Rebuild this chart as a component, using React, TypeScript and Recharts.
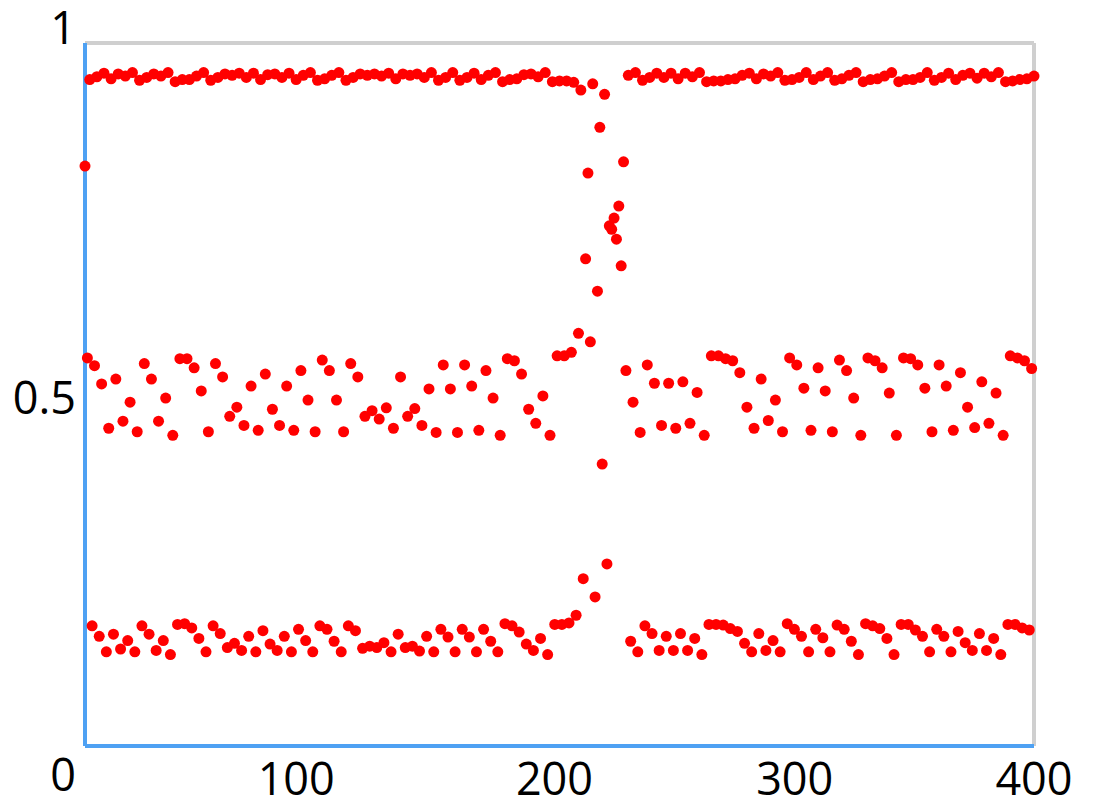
import { ScatterChart, Scatter, XAxis, YAxis, ReferenceLine } from "recharts";

// iteration index runs 0..400
const xTicks = [100, 200, 300, 400];
const yTicks = [0, 0.5, 1];

const startValue = 0.825;

// before the burst: middle band at n = 1, 4, ... 211
const midBefore = [
  0.552, 0.541, 0.515, 0.452, 0.522, 0.462, 0.489, 0.447, 0.544, 0.522,
  0.462, 0.495, 0.442, 0.551, 0.551, 0.538, 0.505, 0.447, 0.544, 0.525,
  0.469, 0.482, 0.456, 0.512, 0.449, 0.529, 0.479, 0.456, 0.512, 0.449,
  0.534, 0.492, 0.447, 0.549, 0.534, 0.492, 0.447, 0.544, 0.525, 0.469,
  0.477, 0.465, 0.481, 0.452, 0.525, 0.469, 0.48, 0.456, 0.508, 0.446,
  0.542, 0.508, 0.446, 0.542, 0.512, 0.449, 0.534, 0.495, 0.442, 0.551,
  0.548, 0.529, 0.479, 0.459, 0.498, 0.442, 0.555, 0.555, 0.56, 0.587,
  0.693,
];

// top band at n = 2, 5, ... 212
const topBefore = [
  0.948, 0.952, 0.957, 0.949, 0.956, 0.953, 0.958, 0.947, 0.951, 0.956,
  0.953, 0.958, 0.945, 0.948, 0.948, 0.953, 0.958, 0.947, 0.951, 0.956,
  0.954, 0.957, 0.951, 0.957, 0.948, 0.955, 0.956, 0.951, 0.957, 0.948,
  0.954, 0.958, 0.947, 0.949, 0.954, 0.958, 0.947, 0.951, 0.956, 0.954,
  0.956, 0.953, 0.957, 0.949, 0.956, 0.954, 0.956, 0.951, 0.958, 0.947,
  0.951, 0.958, 0.947, 0.951, 0.957, 0.948, 0.954, 0.958, 0.945, 0.948,
  0.949, 0.955, 0.956, 0.952, 0.958, 0.945, 0.946, 0.946, 0.944, 0.933,
  0.815,
];

// bottom band at n = 3, 6, ... 210
const lowBefore = [
  0.171, 0.156, 0.134, 0.159, 0.138, 0.15, 0.134, 0.171, 0.159, 0.136,
  0.15, 0.13, 0.173, 0.174, 0.168, 0.153, 0.134, 0.171, 0.16, 0.14,
  0.146, 0.136, 0.156, 0.134, 0.164, 0.145, 0.136, 0.156, 0.134, 0.166,
  0.15, 0.134, 0.171, 0.166, 0.149, 0.134, 0.171, 0.164, 0.139, 0.142,
  0.14, 0.147, 0.134, 0.159, 0.14, 0.142, 0.135, 0.156, 0.134, 0.166,
  0.155, 0.134, 0.166, 0.155, 0.134, 0.166, 0.149, 0.134, 0.174, 0.171,
  0.162, 0.145, 0.136, 0.153, 0.13, 0.173, 0.173, 0.175, 0.186, 0.238,
];

// chaotic burst, n = 213 .. 227
const burst = [
  0.575, 0.942, 0.212, 0.647, 0.88, 0.401, 0.927, 0.259, 0.74, 0.735,
  0.751, 0.721, 0.768, 0.683, 0.831,
];

// after the burst: middle n = 228, 231 ... 399
const midAfter = [
  0.534, 0.489, 0.446, 0.542, 0.516, 0.456, 0.516, 0.452, 0.518, 0.459,
  0.503, 0.442, 0.555, 0.555, 0.551, 0.548, 0.531, 0.482, 0.452, 0.522,
  0.463, 0.492, 0.447, 0.552, 0.542, 0.509, 0.449, 0.538, 0.505, 0.447,
  0.549, 0.534, 0.495, 0.442, 0.552, 0.548, 0.538, 0.502, 0.442, 0.552,
  0.551, 0.542, 0.509, 0.447, 0.542, 0.512, 0.449, 0.531, 0.482, 0.453,
  0.518, 0.459, 0.502, 0.442, 0.555, 0.552, 0.548, 0.537,
];

// top n = 229, 232 ... 400
const topAfter = [
  0.954, 0.958, 0.947, 0.951, 0.957, 0.951, 0.957, 0.949, 0.957, 0.952,
  0.958, 0.945, 0.946, 0.946, 0.948, 0.949, 0.954, 0.957, 0.949, 0.956,
  0.953, 0.958, 0.947, 0.948, 0.951, 0.958, 0.948, 0.953, 0.958, 0.947,
  0.949, 0.954, 0.958, 0.945, 0.948, 0.949, 0.953, 0.958, 0.945, 0.948,
  0.948, 0.951, 0.958, 0.947, 0.951, 0.957, 0.948, 0.954, 0.957, 0.95,
  0.957, 0.952, 0.958, 0.945, 0.946, 0.948, 0.949, 0.953,
];

// bottom n = 230, 233 ... 398
const lowAfter = [
  0.149, 0.134, 0.171, 0.16, 0.136, 0.156, 0.136, 0.16, 0.136, 0.153,
  0.13, 0.173, 0.173, 0.172, 0.167, 0.163, 0.146, 0.134, 0.16, 0.136,
  0.15, 0.134, 0.174, 0.166, 0.156, 0.134, 0.166, 0.154, 0.134, 0.172,
  0.166, 0.149, 0.13, 0.174, 0.171, 0.167, 0.153, 0.13, 0.173, 0.173,
  0.165, 0.156, 0.134, 0.166, 0.156, 0.134, 0.163, 0.147, 0.136, 0.16,
  0.136, 0.153, 0.13, 0.173, 0.173, 0.168, 0.165,
];

function buildSeries() {
  const values: number[] = new Array(401);
  values[0] = startValue;
  midBefore.forEach((v, i) => (values[1 + 3 * i] = v));
  topBefore.forEach((v, i) => (values[2 + 3 * i] = v));
  lowBefore.forEach((v, i) => (values[3 + 3 * i] = v));
  burst.forEach((v, i) => (values[213 + i] = v));
  midAfter.forEach((v, i) => (values[228 + 3 * i] = v));
  topAfter.forEach((v, i) => (values[229 + 3 * i] = v));
  lowAfter.forEach((v, i) => (values[230 + 3 * i] = v));
  return values.map((y, x) => ({ x, y }));
}

const data = buildSeries();

const FONT = "'Open Sans', 'Noto Sans', sans-serif";
const BLUE = "#4ea1f3";
const GRAY = "#cfcfcf";

// the labels in the picture sit a little off their ticks
const xLabelShift: Record<number, number> = { 100: -26, 200: -5, 300: -2, 400: 0 };
const yLabelShift: Record<number, number> = { 0: 45, 0.5: 19, 1: 0.5 };

function XTick({ x, y, payload }: any) {
  return (
    <text
      x={x + (xLabelShift[payload.value] ?? 0)}
      y={y + 49}
      textAnchor="middle"
      fontSize={45}
      fontFamily={FONT}
      fill="#000"
    >
      {payload.value}
    </text>
  );
}

function YTick({ x, y, payload }: any) {
  return (
    <text
      x={x - 9}
      y={y + (yLabelShift[payload.value] ?? 0)}
      textAnchor="end"
      fontSize={45}
      fontFamily={FONT}
      fill="#000"
    >
      {payload.value}
    </text>
  );
}

const dot = (p: any) => <circle cx={p.cx} cy={p.cy} r={5.5} fill="#ff0000" />;

export default function App() {
  return (
    <div style={{ position: "absolute", left: 0, top: 0, background: "#fff" }}>
      <ScatterChart width={1094} height={808} margin={{ top: 43, right: 60, bottom: 12, left: 5 }}>
        <XAxis
          type="number"
          dataKey="x"
          domain={[0, 400]}
          ticks={xTicks}
          tick={<XTick />}
          tickLine={false}
          tickSize={0}
          tickMargin={0}
          height={50}
          axisLine={{ stroke: BLUE, strokeWidth: 4 }}
        />
        <YAxis
          type="number"
          dataKey="y"
          domain={[0, 1]}
          ticks={yTicks}
          tick={<YTick />}
          tickLine={false}
          tickSize={0}
          tickMargin={0}
          width={80}
          axisLine={{ stroke: BLUE, strokeWidth: 4 }}
        />
        <ReferenceLine y={1} stroke={GRAY} strokeWidth={4} />
        <ReferenceLine x={400} stroke={GRAY} strokeWidth={4} />
        <Scatter data={data} shape={dot} isAnimationActive={false} />
      </ScatterChart>
    </div>
  );
}
